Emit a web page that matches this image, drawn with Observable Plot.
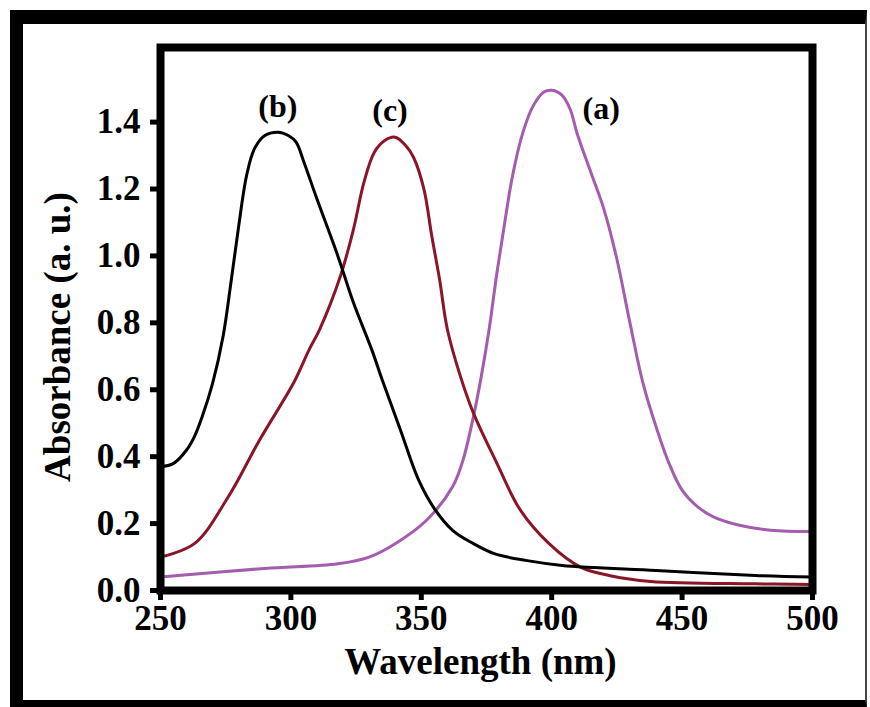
<!DOCTYPE html>
<html>
<head>
<meta charset="utf-8">
<script src="https://cdn.jsdelivr.net/npm/d3@7"></script>
<script src="https://cdn.jsdelivr.net/npm/@observablehq/plot@0.6"></script>
<style>
  html, body { margin: 0; padding: 0; background: white; }
  #wrap { position: relative; width: 870px; height: 707px; overflow: hidden; background: white; }
  #wrap svg { position: absolute; left: 0; top: 0; }
  #border { position: absolute; left: 10px; top: 10px; width: 857px; height: 697px; box-sizing: border-box;
            border-left: 13px solid #000; border-top: 14px solid #000; border-bottom: 7px solid #000; border-right: 2px solid #444;
            pointer-events: none; }
</style>
</head>
<body>
<div id="wrap"><div id="border"></div></div>
<script>
// Series (a) – purple
const wlA  = [250, 290, 318, 330, 340, 352, 362, 366, 370, 373, 376, 379, 382, 385, 389, 393, 397, 400, 404, 407, 410, 415, 420, 425, 430, 435, 440, 445, 450, 456, 462, 472, 484, 500];
const absA = [0.04, 0.066, 0.08, 0.10, 0.14, 0.21, 0.31, 0.39, 0.52, 0.64, 0.78, 0.95, 1.10, 1.24, 1.37, 1.45, 1.49, 1.495, 1.48, 1.44, 1.36, 1.25, 1.14, 0.99, 0.80, 0.62, 0.49, 0.38, 0.30, 0.25, 0.22, 0.195, 0.18, 0.176];
// Series (b) – black
const wlB  = [250, 255, 260, 263, 266, 270, 274, 277, 280, 283, 286, 290, 295, 299, 302, 305, 310, 318, 324, 331, 335, 342, 349, 355, 362, 370, 378, 390, 404, 440, 478, 500];
const absB = [0.37, 0.38, 0.42, 0.46, 0.52, 0.62, 0.76, 0.92, 1.09, 1.24, 1.32, 1.36, 1.37, 1.36, 1.34, 1.28, 1.17, 1.0, 0.86, 0.72, 0.63, 0.48, 0.33, 0.245, 0.18, 0.14, 0.11, 0.09, 0.075, 0.06, 0.045, 0.04];
// Series (c) – dark red
const wlC  = [250, 263, 276, 288, 301, 307, 311, 319, 324, 328, 332, 336, 340, 344, 347, 351, 354, 357, 360, 365, 370, 379, 388, 399, 411, 422, 438, 478, 500];
const absC = [0.10, 0.14, 0.28, 0.45, 0.62, 0.72, 0.78, 0.94, 1.08, 1.22, 1.31, 1.345, 1.355, 1.33, 1.295, 1.2, 1.06, 0.93, 0.78, 0.64, 0.53, 0.38, 0.24, 0.14, 0.07, 0.045, 0.027, 0.02, 0.018];

const seriesNames  = ["(a)", "(b)", "(c)"];
const seriesColors = ["#a35cae", "#000000", "#8a1526"];

const annLabels = ["(b)", "(c)", "(a)"];
const annX = [295, 338, 419];
const annY = [1.445, 1.433, 1.439];

const xTicks = [250, 300, 350, 400, 450, 500];
const yTicks = [0.0, 0.2, 0.4, 0.6, 0.8, 1.0, 1.2, 1.4];
const xTitle = "Wavelength (nm)";
const yTitle = "Absorbance (a. u.)";

const toRows = (wl, ab) => wl.map((w, i) => ({wl: w, ab: ab[i]}));
const rowsA = toRows(wlA, absA), rowsB = toRows(wlB, absB), rowsC = toRows(wlC, absC);
const ann = annLabels.map((t, i) => ({t, x: annX[i], y: annY[i]}));

const font = "'Liberation Serif', 'Times New Roman', serif";

const chart = Plot.plot({
  width: 870,
  height: 707,
  marginLeft: 160,
  marginRight: 58,
  marginTop: 47,
  marginBottom: 117,
  x: {domain: [250, 500]},
  y: {domain: [0, 1.623]},
  style: {fontFamily: font, background: "transparent", color: "black"},
  marks: [
    Plot.line(rowsA, {x: "wl", y: "ab", stroke: seriesColors[0], strokeWidth: 3, curve: "catmull-rom"}),
    Plot.line(rowsC, {x: "wl", y: "ab", stroke: seriesColors[2], strokeWidth: 3, curve: "catmull-rom"}),
    Plot.line(rowsB, {x: "wl", y: "ab", stroke: seriesColors[1], strokeWidth: 3, curve: "catmull-rom"}),
    Plot.frame({stroke: "black", strokeWidth: 8}),
    Plot.axisX({ticks: xTicks, tickSize: 10, tickPadding: 5, strokeWidth: 5, fontSize: 35, fontWeight: "bold", label: null, tickFormat: d => String(d)}),
    Plot.axisY({ticks: yTicks, tickSize: 10, tickPadding: 10, strokeWidth: 5, fontSize: 35, fontWeight: "bold", label: null, tickFormat: d => d.toFixed(1)}),
    Plot.text(ann, {x: "x", y: "y", text: "t", fontSize: 32, fontWeight: "bold", fill: "black"}),
    Plot.text([xTitle], {text: d => d, frameAnchor: "bottom", textAnchor: "middle", lineAnchor: "middle", dx: -6, dy: 72, fontSize: 37, fontWeight: "bold", fill: "black"}),
    Plot.text([yTitle], {text: d => d, frameAnchor: "left", textAnchor: "middle", lineAnchor: "middle", rotate: -90, dx: -102, dy: 18, fontSize: 37, fontWeight: "bold", fill: "black"})
  ]
});
document.getElementById("wrap").insertBefore(chart, document.getElementById("border"));
</script>
</body>
</html>
